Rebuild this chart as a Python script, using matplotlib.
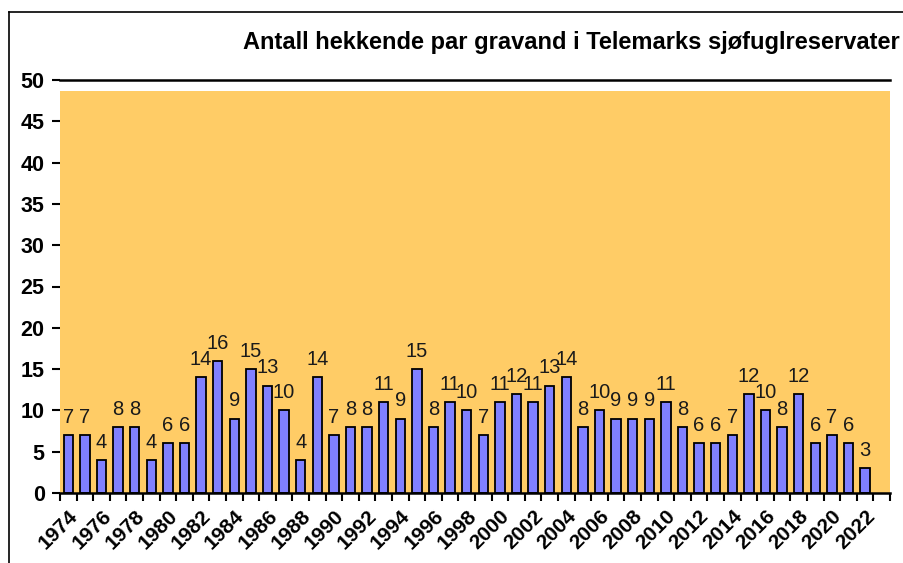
import matplotlib
matplotlib.use("Agg")
import matplotlib.pyplot as plt
from matplotlib.lines import Line2D
import numpy as np

plt.rcParams['font.family'] = ['Liberation Sans', 'DejaVu Sans']

# Data: breeding pairs of shelduck, 1974-2022 (2023 slot left empty)
years = list(range(1974, 2024))
values = [7, 7, 4, 8, 8, 4, 6, 6, 14, 16, 9, 15, 13, 10, 4, 14, 7, 8, 8, 11,
          9, 15, 8, 11, 10, 7, 11, 12, 11, 13, 14, 8, 10, 9, 9, 9, 11, 8, 6, 6,
          7, 12, 10, 8, 12, 6, 7, 6, 3]
title = "Antall hekkende par gravand i Telemarks sjøfuglreservater"

W, H = 904, 563
fig = plt.figure(figsize=(W / 100, H / 100), dpi=100)
ax = fig.add_axes([60 / W, 1 - 493 / H, 830 / W, 413 / H])

x = np.arange(len(years))
ax.set_xlim(-0.5, len(years) - 0.5)
ax.set_ylim(0, 50)

# orange plot area, stops a bit below the 50 line
ax.axhspan(0, 48.7, color='#FFCC66', lw=0, zorder=0)

bars = ax.bar(x[:len(values)], values, width=0.57, color='#8080FF',
              edgecolor='black', linewidth=1.3, zorder=2)
for xi, v in zip(x, values):
    ax.annotate(str(v), (xi, v), xytext=(0, 6), textcoords='offset points',
                ha='center', va='bottom', fontsize=14.5, color='#1a1a1a')

# spines
ax.spines['left'].set_visible(False)
ax.spines['right'].set_visible(False)
ax.spines['top'].set_linewidth(1.8)
ax.spines['bottom'].set_linewidth(1.8)

# y axis
ax.set_yticks(range(0, 51, 5))
ax.set_yticklabels([str(v) for v in range(0, 51, 5)], fontsize=15.5,
                   fontweight='bold')
ax.tick_params(axis='y', length=6, width=1.5, pad=5)

# x axis: tick marks between categories, labels every other year
ax.set_xticks(np.arange(-0.5, len(years), 1.0), minor=True)
ax.set_xticks(x[::2])
ax.set_xticklabels([str(y) for y in years[::2]], rotation=45, ha='right',
                   rotation_mode='anchor', fontsize=15, fontweight='bold')
ax.tick_params(axis='x', which='major', length=0, pad=10)
ax.tick_params(axis='x', which='minor', length=6, width=1.5)

fig.text(900 / W, 1 - 42 / H, title, ha='right', va='center', fontsize=17,
         fontweight='bold')

# outer frame (left and top)
fig.add_artist(Line2D([9 / W, 9 / W], [0, 1 - 12 / H], color='black', lw=1.2,
                      transform=fig.transFigure))
fig.add_artist(Line2D([9 / W, 1], [1 - 12 / H, 1 - 12 / H], color='black',
                      lw=1.2, transform=fig.transFigure))

fig.savefig('out.png', dpi=100)
